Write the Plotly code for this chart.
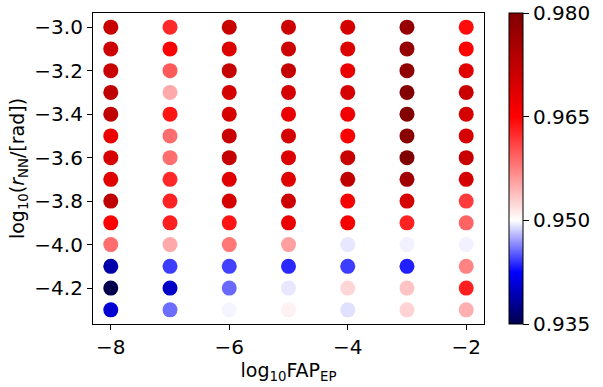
import plotly.graph_objects as go

# Data
log_fap = [-8, -7, -6, -5, -4, -3, -2]
log_rnn = [-3.0, -3.1, -3.2, -3.3, -3.4, -3.5, -3.6, -3.7, -3.8, -3.9, -4.0, -4.1, -4.2, -4.3]
accuracy = [
    [0.9715, 0.9626, 0.9715, 0.9709, 0.9700, 0.9774, 0.9643],
    [0.9710, 0.9650, 0.9690, 0.9710, 0.9690, 0.9774, 0.9650],
    [0.9715, 0.9597, 0.9720, 0.9720, 0.9674, 0.9780, 0.9685],
    [0.9726, 0.9550, 0.9700, 0.9700, 0.9700, 0.9797, 0.9715],
    [0.9726, 0.9638, 0.9697, 0.9674, 0.9668, 0.9797, 0.9700],
    [0.9674, 0.9585, 0.9715, 0.9700, 0.9656, 0.9790, 0.9697],
    [0.9700, 0.9585, 0.9720, 0.9690, 0.9715, 0.9800, 0.9715],
    [0.9685, 0.9626, 0.9685, 0.9685, 0.9726, 0.9762, 0.9700],
    [0.9726, 0.9630, 0.9697, 0.9710, 0.9660, 0.9700, 0.9615],
    [0.9650, 0.9632, 0.9638, 0.9674, 0.9660, 0.9630, 0.9591],
    [0.9585, 0.9550, 0.9580, 0.9556, 0.9493, 0.9496, 0.9496],
    [0.9389, 0.9443, 0.9444, 0.9437, 0.9443, 0.9434, 0.9573],
    [0.9350, 0.9402, 0.9456, 0.9493, 0.9524, 0.9535, 0.9632],
    [0.9406, 0.9457, 0.9497, 0.9508, 0.9491, 0.9526, 0.9547],
]
cbar_ticks = [0.935, 0.950, 0.965, 0.980]

xs, ys, cs = [], [], []
for i, yv in enumerate(log_rnn):
    for j, xv in enumerate(log_fap):
        xs.append(xv)
        ys.append(yv)
        cs.append(accuracy[i][j])

vmin, vcenter, vmax = 0.935, 0.950, 0.980
span = vmax - vmin
f_c = (vcenter - vmin) / span
seismic = [
    [0.0, "rgb(0,0,77)"],
    [f_c / 2, "rgb(0,0,255)"],
    [f_c, "rgb(255,255,255)"],
    [f_c + (1 - f_c) / 2, "rgb(255,0,0)"],
    [1.0, "rgb(128,0,0)"],
]

tick_font = dict(family="DejaVu Sans", size=20, color="black")
title_font = dict(family="DejaVu Sans", size=19, color="black")

fig = go.Figure(go.Scatter(
    x=xs, y=ys, mode="markers",
    marker=dict(
        size=15, color=cs, colorscale=seismic, cmin=vmin, cmax=vmax,
        line=dict(width=0),
        colorbar=dict(
            thickness=14, len=1, lenmode="fraction", y=0.5, yanchor="middle",
            x=1.063, xanchor="left", xpad=0, ypad=0,
            outlinewidth=1, outlinecolor="black",
            tickvals=cbar_ticks, ticktext=[f"{t:.3f}" for t in cbar_ticks],
            ticks="outside", ticklen=6, tickwidth=1, tickcolor="black",
            tickfont=tick_font,
        ),
    ),
    hoverinfo="skip",
))

fig.update_layout(
    width=603, height=387,
    margin=dict(l=93, r=112, t=13, b=51),
    paper_bgcolor="white", plot_bgcolor="white",
    font=tick_font, showlegend=False,
)
fig.update_xaxes(
    range=[-8.3, -1.7], tickvals=[-8, -6, -4, -2],
    showgrid=False, zeroline=False,
    showline=True, linecolor="black", linewidth=1.2, mirror=True,
    ticks="outside", ticklen=5, tickwidth=1, tickcolor="black",
    tickfont=tick_font,
    title=dict(text="log<sub>10</sub>FAP<sub>EP</sub>", font=title_font, standoff=3),
)
fig.update_yaxes(
    range=[-4.365, -2.935], tickvals=[-3.0, -3.2, -3.4, -3.6, -3.8, -4.0, -4.2],
    ticktext=["−3.0", "−3.2", "−3.4", "−3.6", "−3.8", "−4.0", "−4.2"],
    showgrid=False, zeroline=False,
    showline=True, linecolor="black", linewidth=1.2, mirror=True,
    ticks="outside", ticklen=5, tickwidth=1, tickcolor="black",
    tickfont=tick_font,
    title=dict(text="log<sub>10</sub>(<i>r</i><sub>NN</sub>/[rad])", font=title_font, standoff=4),
)

fig.write_html("out.html")
